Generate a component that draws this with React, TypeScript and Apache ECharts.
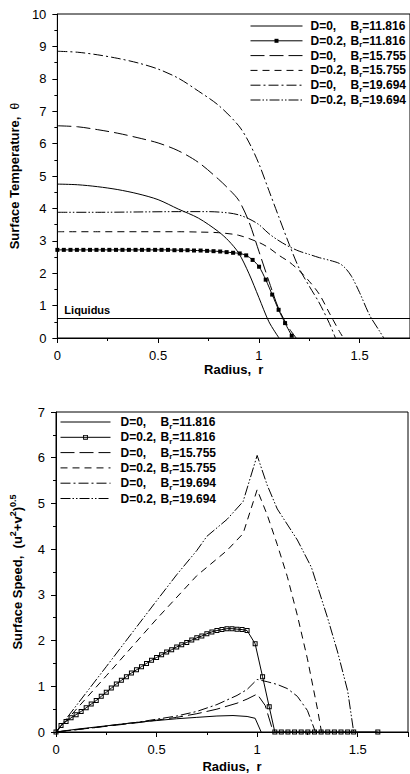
import React, { useEffect, useRef } from 'react';
import * as echarts from 'echarts';

// ---------- Data: Surface Temperature (top chart) ----------
const tempD0Br11816: [number, number][] = [
  [0, 4.75], [0.1, 4.73], [0.2, 4.67], [0.3, 4.58], [0.4, 4.45], [0.5, 4.27], [0.6, 3.98],
  [0.7, 3.7], [0.8, 3.28], [0.85, 3.0], [0.9, 2.62], [0.95, 2.0], [1.0, 1.25], [1.05, 0.5], [1.1, 0],
];
const tempD02Br11816: [number, number][] = [
  [0, 2.72], [0.032, 2.72], [0.065, 2.72], [0.097, 2.72], [0.129, 2.72], [0.162, 2.72], [0.194, 2.72],
  [0.226, 2.72], [0.258, 2.72], [0.291, 2.72], [0.323, 2.72], [0.355, 2.72], [0.388, 2.72], [0.42, 2.72],
  [0.452, 2.72], [0.485, 2.72], [0.517, 2.72], [0.549, 2.72], [0.581, 2.71], [0.614, 2.71], [0.646, 2.71],
  [0.678, 2.7], [0.711, 2.7], [0.743, 2.69], [0.775, 2.68], [0.808, 2.67], [0.84, 2.65], [0.872, 2.63],
  [0.905, 2.61], [0.937, 2.55], [0.969, 2.41], [1.001, 2.2], [1.034, 1.8], [1.066, 1.34], [1.098, 0.87],
  [1.13, 0.46], [1.163, 0.07],
];
const tempD0Br15755: [number, number][] = [
  [0, 6.55], [0.1, 6.52], [0.2, 6.43], [0.3, 6.32], [0.4, 6.18], [0.5, 6.02], [0.6, 5.78], [0.7, 5.42],
  [0.8, 4.9], [0.85, 4.6], [0.9, 4.25], [0.95, 3.6], [1.0, 2.68], [1.05, 1.75], [1.1, 0.88], [1.15, 0.3],
  [1.185, 0],
];
const tempD02Br15755: [number, number][] = [
  [0, 3.28], [0.2, 3.28], [0.4, 3.28], [0.6, 3.28], [0.7, 3.27], [0.8, 3.25], [0.9, 3.17], [1.0, 2.95],
  [1.05, 2.78], [1.1, 2.55], [1.15, 2.35], [1.2, 2.08], [1.25, 1.75], [1.3, 1.35], [1.35, 0.77], [1.4, 0.2],
  [1.42, 0],
];
const tempD0Br19694: [number, number][] = [
  [0, 8.85], [0.1, 8.82], [0.2, 8.74], [0.3, 8.63], [0.4, 8.49], [0.5, 8.3], [0.6, 8.02], [0.7, 7.62],
  [0.8, 7.18], [0.9, 6.55], [0.95, 6.05], [1.0, 5.38], [1.05, 4.55], [1.1, 3.72], [1.15, 2.9], [1.2, 2.15],
  [1.25, 1.6], [1.3, 1.08], [1.35, 0.45], [1.38, 0],
];
const tempD02Br19694: [number, number][] = [
  [0, 3.88], [0.2, 3.88], [0.4, 3.89], [0.6, 3.9], [0.75, 3.9], [0.85, 3.86], [0.9, 3.8], [0.95, 3.68],
  [1.0, 3.5], [1.05, 3.22], [1.1, 3.0], [1.15, 2.82], [1.2, 2.68], [1.25, 2.58], [1.3, 2.48], [1.35, 2.4],
  [1.4, 2.3], [1.43, 2.15], [1.46, 1.9], [1.5, 1.4], [1.55, 0.7], [1.6, 0.2], [1.62, 0],
];
const liquidusValue = 0.6;

// ---------- Data: Surface Speed (bottom chart) ----------
const speedD0Br11816: [number, number][] = [
  [0, 0], [0.1, 0.06], [0.2, 0.11], [0.3, 0.16], [0.4, 0.21], [0.5, 0.25], [0.6, 0.29], [0.7, 0.32],
  [0.8, 0.35], [0.88, 0.36], [0.95, 0.34], [0.99, 0.3], [1.02, 0],
];
const speedD02Br11816: [number, number][] = [
  [0, 0], [0.025, 0.14], [0.05, 0.23], [0.075, 0.31], [0.1, 0.38], [0.125, 0.45], [0.15, 0.53],
  [0.175, 0.61], [0.2, 0.69], [0.225, 0.78], [0.25, 0.87], [0.275, 0.96], [0.3, 1.05], [0.325, 1.13],
  [0.35, 1.21], [0.375, 1.29], [0.4, 1.36], [0.425, 1.43], [0.45, 1.5], [0.475, 1.57], [0.5, 1.63],
  [0.525, 1.69], [0.55, 1.75], [0.575, 1.8], [0.6, 1.86], [0.625, 1.91], [0.65, 1.96], [0.675, 2.01],
  [0.7, 2.06], [0.725, 2.1], [0.75, 2.15], [0.775, 2.19], [0.8, 2.22], [0.825, 2.24], [0.85, 2.26],
  [0.875, 2.26], [0.9, 2.25], [0.925, 2.24], [0.95, 2.22], [0.99, 1.93], [1.027, 1.21], [1.06, 0.55],
  [1.088, 0], [1.12, 0], [1.153, 0], [1.186, 0], [1.219, 0], [1.252, 0], [1.285, 0], [1.318, 0],
  [1.351, 0], [1.384, 0], [1.417, 0], [1.45, 0], [1.48, 0], [1.6, 0],
];
const speedD0Br15755: [number, number][] = [
  [0, 0], [0.1, 0.05], [0.2, 0.1], [0.3, 0.15], [0.4, 0.2], [0.5, 0.26], [0.6, 0.32], [0.7, 0.4],
  [0.8, 0.5], [0.9, 0.63], [0.95, 0.72], [1.0, 0.83], [1.04, 0.58], [1.08, 0],
];
const speedD02Br15755: [number, number][] = [
  [0, 0], [0.25, 1.23], [0.5, 2.47], [0.7, 3.42], [0.85, 3.97], [0.93, 4.34], [1.0, 5.3], [1.05, 4.75],
  [1.1, 4.1], [1.15, 3.4], [1.2, 2.55], [1.25, 1.6], [1.3, 0.5], [1.32, 0],
];
const speedD0Br19694: [number, number][] = [
  [0, 0], [0.1, 0.05], [0.2, 0.1], [0.3, 0.16], [0.4, 0.21], [0.5, 0.28], [0.6, 0.35], [0.7, 0.45],
  [0.8, 0.6], [0.9, 0.8], [0.95, 0.93], [1.0, 1.15], [1.05, 1.1], [1.1, 1.04], [1.15, 0.95], [1.2, 0.78],
  [1.25, 0.47], [1.29, 0],
];
const speedD02Br19694: [number, number][] = [
  [0, 0], [0.25, 1.43], [0.5, 2.87], [0.6, 3.44], [0.7, 3.97], [0.75, 4.28], [0.85, 4.65], [0.93, 5.04],
  [1.0, 6.05], [1.05, 5.4], [1.1, 4.88], [1.2, 4.2], [1.27, 3.6], [1.35, 2.5], [1.4, 1.75], [1.45, 0.9],
  [1.48, 0],
];

// ---------- Legend text ----------
const legendD = ['D=0,', 'D=0.2,', 'D=0,', 'D=0.2,', 'D=0,', 'D=0.2,'];
const legendBr = ['11.816', '11.816', '15.755', '15.755', '19.694', '19.694'];
const topNames = ['T1', 'T2', 'T3', 'T4', 'T5', 'T6'];
const bottomNames = ['S1', 'S2', 'S3', 'S4', 'S5', 'S6'];

const FONT = '"Liberation Sans", Arial, sans-serif';
const dashTypes: any[] = ['solid', 'solid', [14, 5], [7, 5], [10, 3, 2, 3], [10, 2, 1.5, 2, 1.5, 2]];
const RING = 'path://M0 0H10V10H0Z M2 2V8H8V2Z';

export default function App() {
  const ref = useRef<HTMLDivElement>(null);

  useEffect(() => {
    if (!ref.current) return;
    const chart = echarts.init(ref.current, undefined, { renderer: 'svg' });

    const topData = [tempD0Br11816, tempD02Br11816, tempD0Br15755, tempD02Br15755, tempD0Br19694, tempD02Br19694];
    const bottomData = [speedD0Br11816, speedD02Br11816, speedD0Br15755, speedD02Br15755, speedD0Br19694, speedD02Br19694];

    const mkSeries = (names: string[], datas: [number, number][][], axis: number, smooth: number | boolean, marker: string, markerSize: number) =>
      datas.map((d, i) => {
        const s: any = {
          name: names[i],
          type: 'line',
          xAxisIndex: axis,
          yAxisIndex: axis,
          data: d,
          smooth,
          symbol: i === 1 ? marker : 'none',
          symbolSize: markerSize,
          showSymbol: i === 1,
          itemStyle: { color: '#000' },
          lineStyle: { color: '#000', width: 1, type: dashTypes[i] },
          silent: true,
          z: 3,
        };
        return s;
      });

    const topSeries = mkSeries(topNames, topData, 0, 0.3, 'rect', 4);
    topSeries[0].markLine = {
      silent: true,
      symbol: 'none',
      lineStyle: { color: '#000', width: 1, type: 'solid' },
      label: {
        show: true,
        position: 'insideStartTop',
        formatter: 'Liquidus',
        color: '#000',
        fontFamily: FONT,
        fontWeight: 'bold',
        fontSize: 11,
        distance: [7, 3],
      },
      data: [{ yAxis: liquidusValue }],
    };
    const bottomSeries = mkSeries(bottomNames, bottomData, 1, false, RING, 5);

    const legendRich = (dWidth: number) => ({
      d: { width: dWidth, fontWeight: 'bold', fontSize: 12, fontFamily: FONT, color: '#000', lineHeight: 16 },
      b: { fontWeight: 'bold', fontSize: 12, fontFamily: FONT, color: '#000', lineHeight: 16 },
      s: { fontWeight: 'bold', fontSize: 8, fontFamily: FONT, color: '#000', lineHeight: 8, verticalAlign: 'bottom' },
    });
    const fmt = (names: string[]) => (name: string) => {
      const i = names.indexOf(name);
      return `{d|${legendD[i]}}{b|B}{s|r}{b|=${legendBr[i]}}`;
    };

    const xAxisBase = (grid: number, nameGap: number) => ({
      gridIndex: grid,
      type: 'value',
      min: 0,
      max: 1.75,
      interval: 0.5,
      name: 'Radius,  r',
      nameLocation: 'middle',
      nameGap,
      nameTextStyle: { fontFamily: FONT, fontWeight: 'bold', fontSize: 13, color: '#000' },
      axisLine: { show: true, lineStyle: { color: '#000', width: 1 } },
      axisTick: { show: true, length: 5, lineStyle: { color: '#000' } },
      minorTick: { show: true, splitNumber: 2, length: 3, lineStyle: { color: '#000' } },
      axisLabel: { fontFamily: FONT, fontSize: 13, color: '#000', margin: 11, showMaxLabel: false },
      splitLine: { show: false },
    });

    const yAxisCommon = {
      type: 'value',
      nameLocation: 'middle',
      nameRotate: 90,
      axisLine: { show: true, lineStyle: { color: '#000', width: 1 } },
      axisTick: { show: true, length: 5, lineStyle: { color: '#000' } },
      minorTick: { show: true, splitNumber: 2, length: 3, lineStyle: { color: '#000' } },
      axisLabel: { fontFamily: FONT, fontSize: 13, color: '#000', margin: 11 },
      splitLine: { show: false },
    };

    const option: any = {
      animation: false,
      backgroundColor: '#fff',
      grid: [
        { left: 55, top: 14, width: 357, height: 324, show: true, borderColor: '#000', borderWidth: 1, backgroundColor: 'transparent' },
        { left: 54, top: 412, width: 354, height: 323, show: true, borderColor: '#000', borderWidth: 1, backgroundColor: 'transparent' },
      ],
      xAxis: [xAxisBase(0, 24), xAxisBase(1, 28)],
      yAxis: [
        {
          ...yAxisCommon,
          gridIndex: 0,
          min: 0,
          max: 10,
          interval: 1,
          name: '{m|Surface Temperature,  }{t|θ}',
          nameGap: 32,
          nameTextStyle: {
            fontFamily: FONT, fontWeight: 'bold', fontSize: 13, color: '#000',
            rich: {
              m: { fontFamily: FONT, fontWeight: 'bold', fontSize: 13, color: '#000' },
              t: { fontFamily: FONT, fontWeight: 'normal', fontSize: 12, color: '#000' },
            },
          },
        },
        {
          ...yAxisCommon,
          gridIndex: 1,
          min: 0,
          max: 7,
          interval: 1,
          name: '{m|Surface Speed,  (u}{p|2}{m|+v}{p|2}{m|)}{p|0.5}',
          nameGap: 30,
          nameTextStyle: {
            fontFamily: FONT, fontWeight: 'bold', fontSize: 13, color: '#000',
            rich: {
              m: { fontFamily: FONT, fontWeight: 'bold', fontSize: 13, color: '#000', lineHeight: 18 },
              p: { fontFamily: FONT, fontWeight: 'bold', fontSize: 9, color: '#000', lineHeight: 9, verticalAlign: 'top' },
            },
          },
        },
      ],
      legend: [
        {
          orient: 'vertical',
          left: 250,
          top: 20,
          padding: 0,
          itemWidth: 52,
          itemHeight: 5,
          itemGap: 0.8,
          selectedMode: false,
          lineStyle: { width: 1 },
          data: topNames.map((n, i) => (i === 1 ? { name: n } : { name: n, itemStyle: { opacity: 0 } })),
          formatter: fmt(topNames),
          textStyle: { color: '#000', padding: [0, 0, 0, 3], rich: legendRich(40) },
        },
        {
          orient: 'vertical',
          left: 60,
          top: 416,
          padding: 0,
          itemWidth: 50,
          itemHeight: 6,
          itemGap: 1.3,
          selectedMode: false,
          lineStyle: { width: 1 },
          data: bottomNames.map((n, i) => (i === 1 ? { name: n } : { name: n, itemStyle: { opacity: 0 } })),
          formatter: fmt(bottomNames),
          textStyle: { color: '#000', padding: [0, 0, 0, 5], rich: legendRich(40) },
        },
      ],
      series: [...topSeries, ...bottomSeries],
    };

    chart.setOption(option);
    return () => chart.dispose();
  }, []);

  return (
    <div
      ref={ref}
      style={{ position: 'absolute', left: 0, top: 0, width: 410, height: 774, background: '#fff' }}
    />
  );
}
